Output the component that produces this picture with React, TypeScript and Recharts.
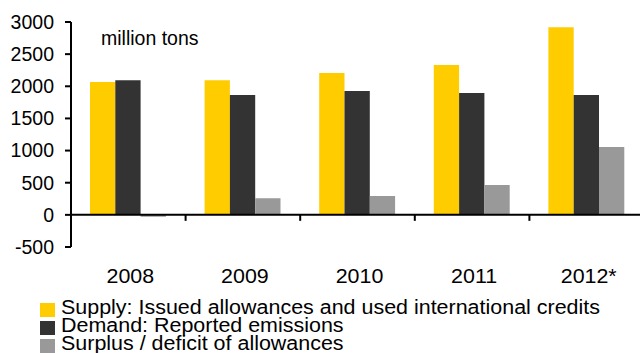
import React from 'react';
import { BarChart, Bar, XAxis, YAxis, ReferenceLine, Legend } from 'recharts';

// EU ETS supply / demand balance, million tons
const years = ['2008', '2009', '2010', '2011', '2012*'];
const supply = [2065, 2095, 2205, 2330, 2920];
const demand = [2095, 1865, 1925, 1895, 1865];
const surplus = [-30, 260, 295, 465, 1055];
const yTicks = [-500, 0, 500, 1000, 1500, 2000, 2500, 3000];

const seriesNames = {
  supply: 'Supply: Issued allowances and used international credits',
  demand: 'Demand: Reported emissions',
  surplus: 'Surplus / deficit of allowances',
};
const colors = { supply: '#FFCC00', demand: '#333333', surplus: '#999999' };

const data = years.map((year, i) => ({
  year,
  supply: supply[i],
  demand: demand[i],
  surplus: surplus[i],
}));

const FONT = '"Liberation Sans", Arial, Helvetica, sans-serif';
const CHART_W = 644;
const CHART_H = 353;
const Y_AXIS_W = 71;
const MARGIN = { top: 22, right: 0, left: 0, bottom: 66 };
const X_AXIS_H = 40;
const Y_MIN = -500;
const Y_MAX = 3000;

const plotTop = MARGIN.top;
const plotHeight = CHART_H - MARGIN.top - MARGIN.bottom - X_AXIS_H;
const plotWidth = CHART_W - Y_AXIS_W - MARGIN.left - MARGIN.right;
const bandWidth = plotWidth / years.length;
// pixel row of the value 0 on the value axis
const zeroY = plotTop + (plotHeight * (Y_MAX - 0)) / (Y_MAX - Y_MIN);

const XTick = (props: any) => {
  const { x, y, payload, index } = props;
  return (
    <g>
      {index < years.length - 1 && (
        <line
          x1={x + bandWidth / 2}
          x2={x + bandWidth / 2}
          y1={zeroY}
          y2={zeroY + 6}
          stroke="#000"
          strokeWidth={2}
        />
      )}
      <text
        transform={`translate(${x + 2},${y + 36}) scale(1.07,1)`}
        textAnchor="middle"
        fontSize={20}
        fontFamily={FONT}
        fill="#000"
      >
        {payload.value}
      </text>
    </g>
  );
};

const LegendContent = () => {
  const keys: Array<keyof typeof seriesNames> = ['supply', 'demand', 'surplus'];
  return (
    <div style={{ fontFamily: FONT, fontSize: 19.5, color: '#000' }}>
      {keys.map((k) => (
        <div
          key={k}
          style={{
            position: 'relative',
            height: 18,
            lineHeight: '18px',
            paddingLeft: 21,
            whiteSpace: 'nowrap',
          }}
        >
          <span
            style={{
              position: 'absolute',
              left: 0,
              top: 5,
              width: 15,
              height: 14,
              background: colors[k],
            }}
          />
          <span
            style={{
              display: 'inline-block',
              transform: 'scaleX(1.1)',
              transformOrigin: 'left center',
            }}
          >
            {seriesNames[k]}
          </span>
        </div>
      ))}
    </div>
  );
};

export default function App() {
  return (
    <div
      style={{
        position: 'absolute',
        left: 0,
        top: 0,
        width: 640,
        height: 353,
        overflow: 'hidden',
        background: '#fff',
      }}
    >
      <BarChart
        width={CHART_W}
        height={CHART_H}
        data={data}
        margin={MARGIN}
        barGap={0}
        barSize={25.3}
      >
        <YAxis
          width={Y_AXIS_W}
          domain={[Y_MIN, Y_MAX]}
          ticks={yTicks}
          allowDataOverflow
          axisLine={{ stroke: '#000', strokeWidth: 2 }}
          tickLine={{ stroke: '#000', strokeWidth: 2 }}
          tickSize={6}
          tickMargin={11}
          tick={{ fontSize: 19.5, fill: '#000', fontFamily: FONT }}
        />
        <XAxis
          dataKey="year"
          height={X_AXIS_H}
          axisLine={false}
          tickLine={false}
          tickSize={0}
          tickMargin={0}
          interval={0}
          tick={<XTick />}
        />
        <Bar dataKey="supply" name={seriesNames.supply} fill={colors.supply} isAnimationActive={false} />
        <Bar dataKey="demand" name={seriesNames.demand} fill={colors.demand} isAnimationActive={false} />
        <Bar dataKey="surplus" name={seriesNames.surplus} fill={colors.surplus} isAnimationActive={false} />
        <ReferenceLine y={0} stroke="#000" strokeWidth={2} />
        <Legend
          layout="horizontal"
          verticalAlign="middle"
          align="center"
          content={<LegendContent />}
          wrapperStyle={{ top: 298, left: 40, width: 600, height: 56 }}
        />
        <text x={101} y={45} fontSize={19.5} fontFamily={FONT} fill="#000">
          million tons
        </text>
      </BarChart>
    </div>
  );
}
